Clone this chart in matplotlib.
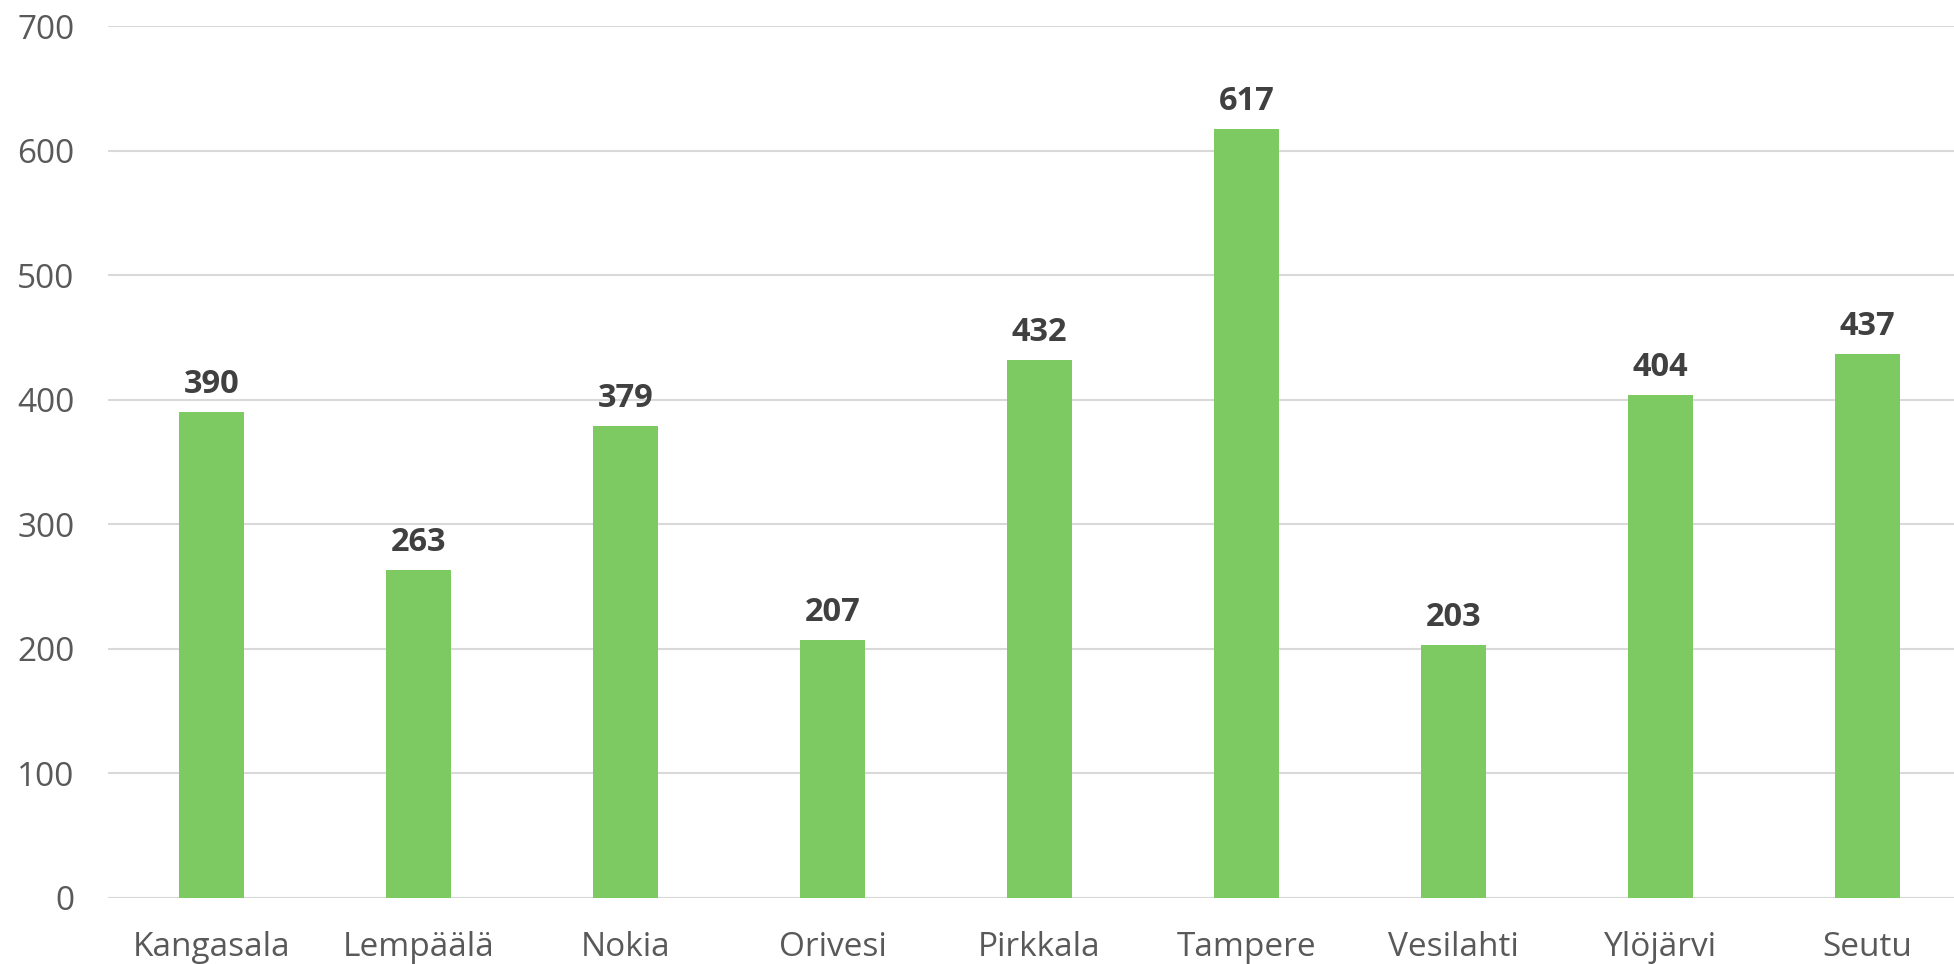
import matplotlib.pyplot as plt
import numpy as np

# data
kunnat = ["Kangasala", "Lempäälä", "Nokia", "Orivesi", "Pirkkala",
          "Tampere", "Vesilahti", "Ylöjärvi", "Seutu"]
arvot = [390, 263, 379, 207, 432, 617, 203, 404, 437]
y_ticks = [0, 100, 200, 300, 400, 500, 600, 700]

plt.rcParams['font.family'] = ['Open Sans', 'DejaVu Sans']

fig = plt.figure(figsize=(19.54, 9.64), dpi=100)
ax = fig.add_axes([0.0553, 0.0685, 0.9447, 0.9045])

x = np.arange(len(kunnat))
bars = ax.bar(x, arvot, width=0.313, color='#7DCA63', zorder=3)

for xi, v in zip(x, arvot):
    ax.annotate(str(v), (xi, v), xytext=(0, 8), textcoords='offset points',
                ha='center', va='bottom', fontsize=23.5, fontweight='bold',
                color='#404040')

ax.set_xlim(-0.5, 8.418)
ax.set_ylim(0, 700)
ax.set_yticks(y_ticks)
ax.set_xticks(x)
ax.set_xticklabels(kunnat)
ax.tick_params(axis='both', length=0, labelsize=24, labelcolor='#595959')
ax.tick_params(axis='x', pad=24)
ax.tick_params(axis='y', pad=24)
ax.yaxis.grid(True, color='#d9d9d9', linewidth=1.5, zorder=0)
for s in ax.spines.values():
    s.set_visible(False)
ax.axhline(0, color='#d9d9d9', linewidth=1.5, zorder=2)

fig.savefig("out.png", dpi=100)
